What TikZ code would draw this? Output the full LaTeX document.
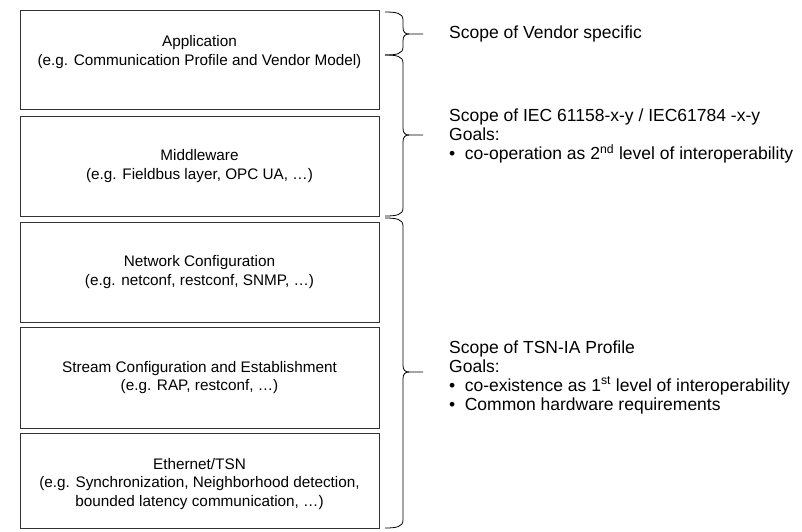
\documentclass[tikz,border=0pt]{standalone}
\usepackage{fontspec}
\setmainfont{Liberation Sans}

% curly brace: ends at x=385, spine at x=403, tip at x=423
% #1 top y, #2 bottom y, #3 tip y, #4 tip coordinate name
\newcommand\scopebrace[4]{%
  \draw[bracepen] (385,#1) .. controls (396,#1) and (403,{#1+1}) .. (403,{#1+8})
    -- (403,{#3-7}) .. controls (403,{#3-2}) and (405,#3) .. (409,#3) -- (423,#3);
  \draw[bracepen] (385,#2) .. controls (396,#2) and (403,{#2-1}) .. (403,{#2-8})
    -- (403,{#3+7}) .. controls (403,{#3+2}) and (405,#3) .. (409,#3);
  \coordinate (#4) at (423,#3);
}

\begin{document}
\begin{tikzpicture}[x=1pt,y=-1pt,
  layer/.style={draw=black!80, line width=0.8pt, minimum width=359pt, inner sep=0pt},
  layertext/.style={align=center, inner sep=0pt,
    font=\fontsize{15.3}{18.8}\selectfont},
  scopetext/.style={align=left, anchor=west, inner sep=0pt,
    font=\fontsize{17.5}{19}\selectfont},
  bracepen/.style={draw=black, line width=0.8pt}]
\useasboundingbox (0,0) rectangle (802,531);

% protocol stack
\node[layer, minimum height=99pt]  (app)    at (199.5,59.5) {};
\node[layer, minimum height=100pt] (mid)    at (199.5,166)  {};
\node[layer, minimum height=100pt] (netcfg) at (199.5,272)  {};
\node[layer, minimum height=101pt] (stream) at (199.5,377.5){};
\node[layer, minimum height=95pt]  (eth)    at (199.5,480.5){};

\node[layertext] (apptxt) at (199.5,52)
  {Application\\(e.g. Communication Profile and Vendor Model)};
\node[layertext] (midtxt) at (199.5,166)
  {Middleware\\(e.g. Fieldbus layer, OPC UA, \dots)};
\node[layertext] (nettxt) at (199.5,272)
  {Network Configuration\\(e.g. netconf, restconf, SNMP, \dots)};
\node[layertext] (strtxt) at (199.5,377.5)
  {Stream Configuration and Establishment\\(e.g. RAP, restconf, \dots)};
\node[layertext] (ethtxt) at (199.5,484)
  {Ethernet/TSN\\(e.g. Synchronization, Neighborhood detection,\\bounded latency communication, \dots)};

% scope braces
\scopebrace{12}{55}{34}{tipV}
\scopebrace{55}{216}{135}{tipI}
\scopebrace{218}{528}{372}{tipT}

% scope descriptions
\node[scopetext] (vendor) at ([xshift=26]tipV) {Scope of Vendor specific};
\node[scopetext] (iec) at ([xshift=26,yshift=-1]tipI)
  {Scope of IEC 61158-x-y / IEC61784 -x-y\\Goals:\\
   \textbullet\hspace{9.5pt}co-operation as 2\textsuperscript{nd} level of interoperability};
\node[scopetext] (tsn) at ([xshift=26,yshift=-5]tipT)
  {Scope of TSN-IA Profile\\Goals:\\
   \textbullet\hspace{9.5pt}co-existence as 1\textsuperscript{st} level of interoperability\\
   \textbullet\hspace{9.5pt}Common hardware requirements};
\end{tikzpicture}
\end{document}
